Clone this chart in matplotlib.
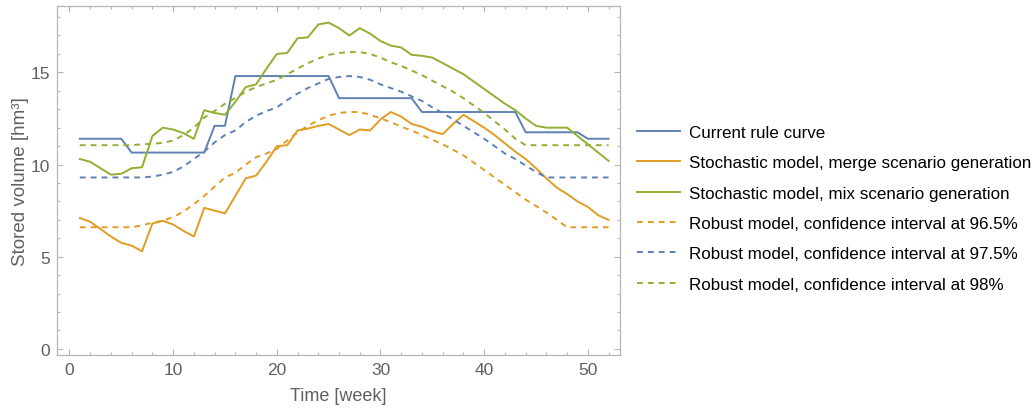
import numpy as np
import matplotlib
matplotlib.use("Agg")
import matplotlib.pyplot as plt

plt.rcParams["font.family"] = ["Liberation Sans", "DejaVu Sans"]

weeks = np.arange(1, 53)

rule_curve = [11.4] * 5 + [10.65] * 8 + [12.1] * 2 + [14.8] * 10 + [13.6] * 8 \
    + [12.85] * 10 + [11.75] * 6 + [11.4] * 3

stoch_merge = [7.1, 6.9, 6.5, 6.1, 5.75, 5.6, 5.3, 6.8, 6.95, 6.75,
               6.4, 6.1, 7.65, 7.5, 7.35, 8.3, 9.25, 9.4, 10.15, 11.0,
               11.05, 11.85, 11.95, 12.1, 12.2, 11.9, 11.6, 11.9, 11.85, 12.45,
               12.85, 12.6, 12.2, 12.05, 11.8, 11.65, 12.2, 12.7, 12.35, 12.0,
               11.6, 11.15, 10.7, 10.3, 9.8, 9.25, 8.75, 8.4, 8.0, 7.7,
               7.25, 7.0]

stoch_mix = [10.3, 10.15, 9.8, 9.45, 9.5, 9.8, 9.85, 11.55, 12.0, 11.9,
             11.7, 11.4, 12.95, 12.8, 12.7, 13.4, 14.2, 14.35, 15.2, 16.0,
             16.05, 16.85, 16.9, 17.6, 17.7, 17.4, 17.0, 17.4, 17.1, 16.7,
             16.45, 16.35, 15.95, 15.9, 15.8, 15.5, 15.2, 14.9, 14.5, 14.1,
             13.7, 13.3, 12.95, 12.5, 12.1, 12.0, 12.0, 12.0, 11.55, 11.1,
             10.65, 10.2]

robust_965 = [6.6] * 6 + [6.7, 6.85, 6.95, 7.15, 7.45, 7.85, 8.3, 8.8, 9.3, 9.55,
              10.0, 10.4, 10.6, 10.85, 11.3, 11.75, 12.1, 12.4, 12.65, 12.8,
              12.85, 12.85, 12.7, 12.5, 12.3, 12.05, 11.85, 11.6, 11.35, 11.1,
              10.8, 10.5, 10.1, 9.7, 9.3, 8.9, 8.5, 8.1, 7.75, 7.4,
              7.0] + [6.6] * 5

robust_975 = [9.3] * 7 + [9.35, 9.45, 9.6, 9.9, 10.3, 10.7, 11.2, 11.6, 11.85,
              12.3, 12.65, 12.9, 13.1, 13.5, 13.85, 14.15, 14.4, 14.65, 14.75,
              14.8, 14.75, 14.6, 14.35, 14.15, 13.95, 13.7, 13.45, 13.1, 12.8,
              12.45, 12.1, 11.75, 11.4, 11.0, 10.6, 10.3, 9.95, 9.6] + [9.3] * 7

robust_98 = [11.05] * 6 + [11.1, 11.12, 11.18, 11.3, 11.6, 12.0, 12.55, 12.9, 13.3,
             13.6, 13.95, 14.2, 14.4, 14.6, 14.9, 15.2, 15.5, 15.75, 15.95,
             16.05, 16.1, 16.1, 16.0, 15.8, 15.55, 15.35, 15.1, 14.85, 14.55,
             14.25, 13.95, 13.6, 13.2, 12.8, 12.35, 11.9, 11.4] + [11.05] * 9

labels = ["Current rule curve",
          "Stochastic model, merge scenario generation",
          "Stochastic model, mix scenario generation",
          "Robust model, confidence interval at 96.5%",
          "Robust model, confidence interval at 97.5%",
          "Robust model, confidence interval at 98%"]

blue, orange, green = "#5E81B5", "#E19C24", "#8FB032"
frame_col = "#b5b5b5"
text_col = "#606060"

fig = plt.figure(figsize=(10.33, 4.10), dpi=100)
ax = fig.add_axes([57 / 1033, 54 / 410, 563 / 1033, 349 / 410])

series = [
    (rule_curve, blue, "-"),
    (stoch_merge, orange, "-"),
    (stoch_mix, green, "-"),
    (robust_965, orange, "--"),
    (robust_975, blue, "--"),
    (robust_98, green, "--"),
]
for (values, color, ls), label in zip(series, labels):
    if ls == "--":
        ax.plot(weeks, values, color=color, lw=1.4, linestyle=(0, (3, 2.6)), label=label)
    else:
        ax.plot(weeks, values, color=color, lw=1.4, label=label)

ax.set_xlim(-1.2, 53.1)
ax.set_ylim(-0.33, 18.6)
ax.set_xticks([0, 10, 20, 30, 40, 50])
ax.set_yticks([0, 5, 10, 15])
ax.set_xticks(np.arange(0, 53, 2), minor=True)
ax.set_yticks(np.arange(0, 19, 1), minor=True)
ax.tick_params(which="both", direction="in", top=True, right=True, color=frame_col,
               labelcolor=text_col, labelsize=12.5, width=0.8)
ax.tick_params(which="major", length=4, pad=5)
ax.tick_params(which="minor", length=2)
for sp in ax.spines.values():
    sp.set_color(frame_col)
    sp.set_linewidth(0.9)

ax.set_xlabel("Time [week]", fontsize=13, color=text_col, labelpad=7)
ax.set_ylabel("Stored volume [hm³]", fontsize=13.5, color=text_col, labelpad=1)

ax.legend(loc="center left", bbox_to_anchor=(1.0, 0.42), frameon=False,
          fontsize=12.25, handlelength=2.5, handletextpad=0.55, labelspacing=0.9,
          borderaxespad=0.6)

plt.savefig("out.png", dpi=100)
plt.close()
